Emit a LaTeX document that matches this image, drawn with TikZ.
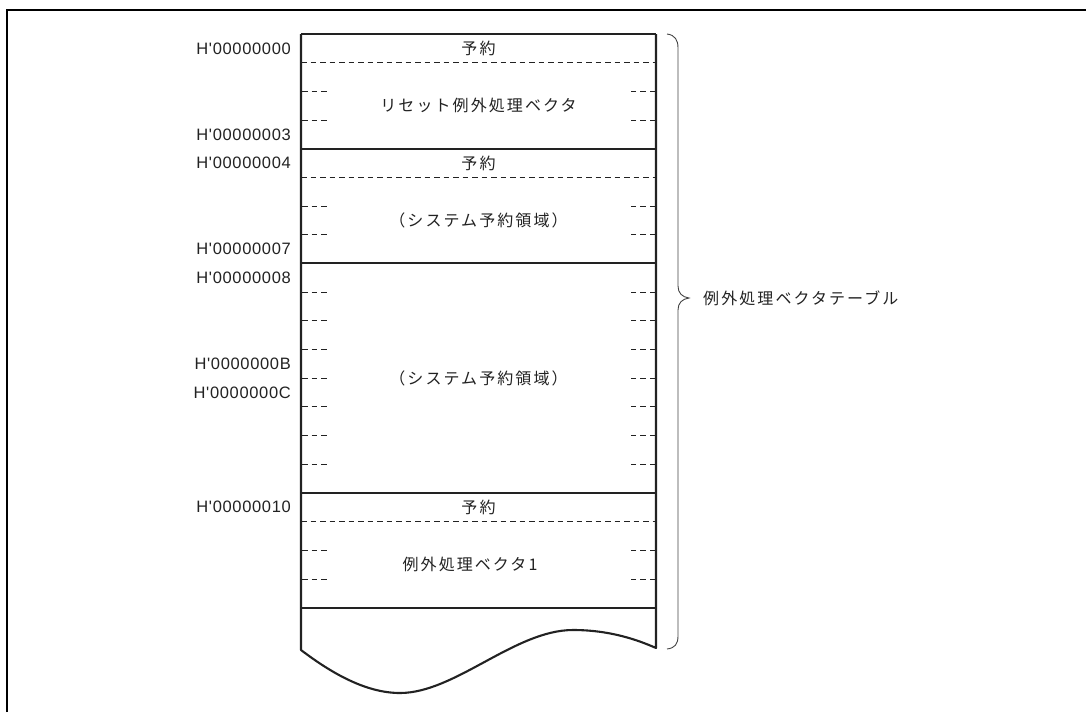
\documentclass[tikz,border=0pt]{standalone}
\usepackage{fontspec}
\setmainfont{Liberation Sans}
\newfontfamily\addrfont{Liberation Sans}[LetterSpace=4]
\newfontfamily\jp{Noto Sans CJK JP}[LetterSpace=13]
\definecolor{ink}{HTML}{222222}
\definecolor{txt}{HTML}{222222}
\begin{document}
\begin{tikzpicture}[x=1pt,y=-1pt,
  addr/.style={anchor=east,inner sep=0pt,text=txt,font=\addrfont\fontsize{16.5}{16.5}\selectfont},
  lbl/.style={inner sep=0pt,text=txt,font=\jp\fontsize{16}{16}\selectfont},
  solidline/.style={draw=ink,line width=2.1pt},
  dline/.style={draw=ink,line width=0.8pt,dash pattern=on 5.5pt off 4pt},
  bracel/.style={draw=ink!85,line width=0.9pt}]
\useasboundingbox (0,0) rectangle (1086,712);
\def\L{301}\def\R{656}\def\T{34}\def\H{28.68}
% outer frame
\draw[black,line width=2pt] (7,712) -- (7,10) -- (1086,10);
% box sides and wavy bottom
\draw[solidline,line join=round] (\L,\T) -- (\L,650)
  .. controls (330,672) and (365,693) .. (400,693)
  .. controls (455,693) and (515,630) .. (573,630)
  .. controls (610,630) and (638,640) .. (\R,648) -- (\R,\T);
% solid boundaries
\foreach \r in {0,4,8,16,20}
  \draw[solidline] (\L,\T+\r*\H) -- (\R,\T+\r*\H);
% full dashed lines
\foreach \r in {1,5,17}
  \draw[dline] (\L,\T+\r*\H) -- (\R,\T+\r*\H);
% short dashes
\foreach \r in {2,3,6,7,9,10,11,12,13,14,15,18,19}{
  \draw[dline] (\L+1,\T+\r*\H) -- (\L+27,\T+\r*\H);
  \draw[dline] (\R-1,\T+\r*\H) -- (\R-27,\T+\r*\H);}
% texts in box
\node[lbl] (r1) at (478.5,\T+0.5*\H) {予約};
\node[lbl] (v1) at (478.5,\T+2.5*\H) {リセット例外処理ベクタ};
\node[lbl] (r2) at (478.5,\T+4.5*\H) {予約};
\node[lbl] (v2) at (478.5,\T+6.5*\H) {（システム予約領域）};
\node[lbl] (v3) at (478.5,\T+12*\H) {（システム予約領域）};
\node[lbl] (r3) at (478.5,\T+16.5*\H) {予約};
\node[lbl] (v4) at (470,\T+18.5*\H) {例外処理ベクタ1};
% addresses
\node[addr] (a0) at (291,\T+0.5*\H) {H'00000000};
\node[addr] (a3) at (291,\T+3.5*\H) {H'00000003};
\node[addr] (a4) at (291,\T+4.5*\H) {H'00000004};
\node[addr] (a7) at (291,\T+7.5*\H) {H'00000007};
\node[addr] (a8) at (291,\T+8.5*\H) {H'00000008};
\node[addr] (aB) at (291,\T+11.5*\H) {H'0000000B};
\node[addr] (aC) at (291,\T+12.5*\H) {H'0000000C};
\node[addr] (a10) at (291,\T+16.5*\H) {H'00000010};
% brace
\coordinate (btop) at (667,34);
\coordinate (btip) at (689,298);
\coordinate (bbot) at (667,649);
\draw[bracel] (btop) .. controls (675,35) and (678,40) .. (678,48) -- (678,286)
  .. controls (678,293) and (682,297) .. (btip)
  .. controls (682,299) and (678,303) .. (678,310) -- (678,636)
  .. controls (678,644) and (675,648) .. (bbot);
\node[lbl,anchor=west] (tbl) at (703,298) {例外処理ベクタテーブル};
\end{tikzpicture}
\end{document}
